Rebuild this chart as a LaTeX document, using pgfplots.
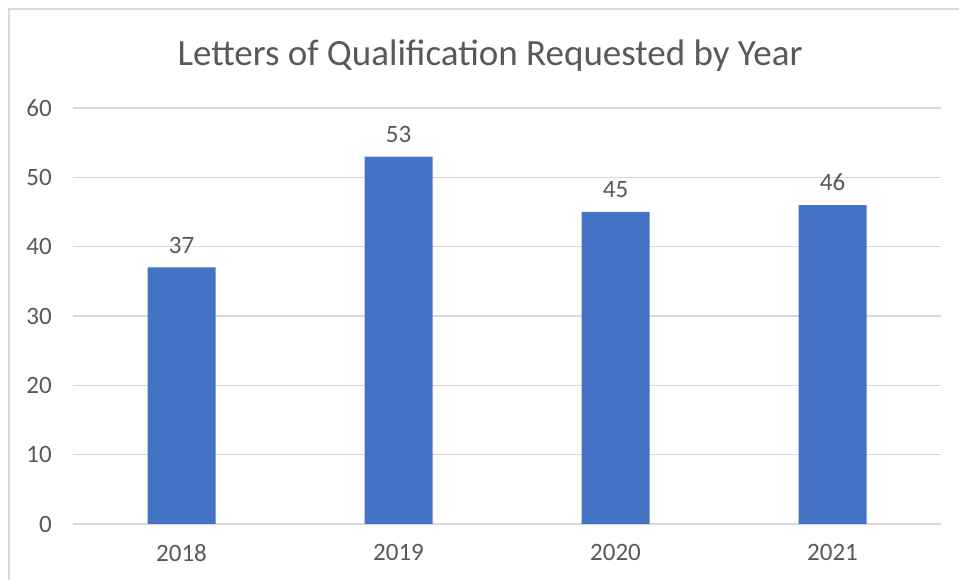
\documentclass[border=0pt]{standalone}
\usepackage{pgfplots}
\pgfplotsset{compat=1.18}
\usepackage{fontspec}
\setmainfont{Carlito}
\definecolor{barblue}{HTML}{4472C4}
\definecolor{txtgray}{HTML}{595959}
\definecolor{gridgray}{HTML}{D9D9D9}

\begin{document}
\begin{tikzpicture}[x=1pt,y=1pt]
  \path[use as bounding box] (0,0) rectangle (959,580);
  \fill[white] (0,0) rectangle (959,580);
  \draw[gridgray,line width=2pt] (9,-5) -- (9,571) -- (970,571);
  \node[anchor=base,text=txtgray,font=\fontsize{37}{44}\selectfont] at (490,514)
    {Letters of Qualification Requested by Year};
  \begin{axis}[
    at={(73pt,56pt)},anchor=south west,
    scale only axis,width=868pt,height=416pt,
    xmin=-0.5,xmax=3.5,ymin=0,ymax=60,
    xtick=data,xticklabels={2018,2019,2020,2021},
    ytick={0,10,...,60},
    major tick length=0pt,
    axis line style={draw=none},
    ymajorgrids,grid style={gridgray,line width=1.5pt},
    ticklabel style={text=txtgray,font=\fontsize{25}{30}\selectfont},
    /pgf/number format/assume math mode=true,
    yticklabel style={inner sep=0pt,xshift=-21pt},
    xticklabel style={inner sep=0pt,yshift=-20pt},
    nodes near coords,
    nodes near coords style={text=txtgray,font=\fontsize{25}{30}\selectfont,inner sep=0pt,yshift=14pt},
    clip=false
  ]
    \addplot[ybar,bar width=68pt,fill=barblue,draw=none] coordinates {
      (0,37) (1,53) (2,45) (3,46)
    };
  \end{axis}
\end{tikzpicture}
\end{document}
